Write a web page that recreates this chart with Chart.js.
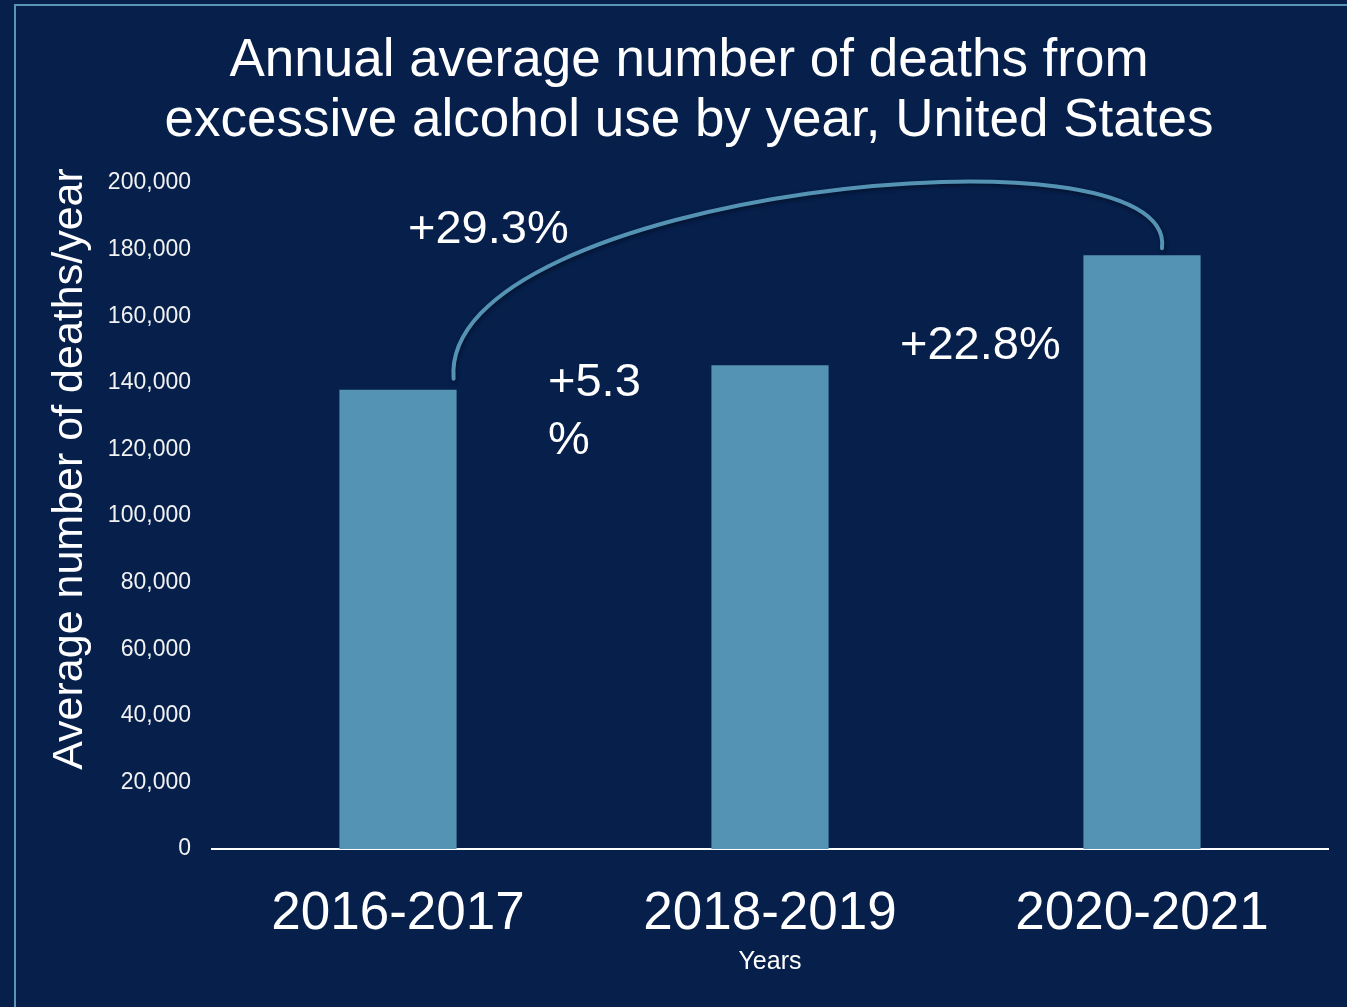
<!DOCTYPE html>
<html>
<head>
<meta charset="utf-8">
<title>Deaths from excessive alcohol use</title>
<script src="https://cdn.jsdelivr.net/npm/chart.js@4.4.0/dist/chart.umd.min.js"></script>
<style>
  html, body { margin: 0; padding: 0; background: #061f4b; overflow: hidden; }
  #wrap { position: relative; width: 1347px; height: 1007px; }
  #frame {
    position: absolute; left: 14px; top: 4px; right: 0; bottom: 0;
    border-left: 2px solid #5a95b9; border-top: 2px solid #5a95b9;
  }
  #chart { position: absolute; left: 0; top: 0; }
</style>
</head>
<body>
<div id="wrap">
  <div id="frame"></div>
  <canvas id="chart" width="1347" height="1007"></canvas>
</div>
<script>
const periods = ['2016-2017', '2018-2019', '2020-2021'];
const avgDeaths = [137927, 145253, 178307];
const yMax = 200000;
const yStep = 20000;

const titleLines = ['Annual average number of deaths from', 'excessive alcohol use by year, United States'];
const yTitle = 'Average number of deaths/year';
const xTitle = 'Years';

const BAR = '#5593b4';
const FONT = '"Liberation Sans", Arial, sans-serif';

Chart.defaults.font.family = FONT;

function pctChange(from, to) {
    return '+' + ((to / from - 1) * 100).toFixed(1) + '%';
}

// arc between first and last bar, change labels, rotated y title
const overlay = {
    id: 'overlay',
    afterDatasetsDraw(chart) {
        const { ctx } = chart;
        const [b1, b2, b3] = chart.getDatasetMeta(0).data;

        ctx.save();
        const sx = b1.x + b1.width / 2 - 3, sy = b1.y - 11;
        const ex = b3.x + 20, ey = b3.y - 7;
        ctx.shadowColor = 'rgba(0, 0, 0, 0.45)';
        ctx.shadowBlur = 4;
        ctx.shadowOffsetX = 1;
        ctx.shadowOffsetY = 2;
        ctx.strokeStyle = BAR;
        ctx.lineWidth = 4;
        ctx.lineCap = 'round';
        ctx.beginPath();
        ctx.moveTo(sx, sy);
        ctx.bezierCurveTo(sx - 15, sy - 188, ex + 17, ey - 132, ex, ey);
        ctx.stroke();
        ctx.restore();

        ctx.save();
        ctx.fillStyle = '#ffffff';
        ctx.font = '47px ' + FONT;
        ctx.textAlign = 'left';
        ctx.textBaseline = 'middle';
        ctx.fillText(pctChange(avgDeaths[0], avgDeaths[2]), b1.x + 10, b1.y - 160);
        const mid = pctChange(avgDeaths[0], avgDeaths[1]);
        ctx.fillText(mid.slice(0, -1), b2.x - 222, b2.y + 18);
        ctx.fillText('%', b2.x - 222, b2.y + 76);
        ctx.fillText(pctChange(avgDeaths[1], avgDeaths[2]), b3.x - 242, b3.y + 91);
        ctx.restore();

        ctx.save();
        ctx.fillStyle = '#ffffff';
        ctx.font = '43px ' + FONT;
        ctx.textAlign = 'center';
        ctx.textBaseline = 'middle';
        ctx.translate(70, 469);
        ctx.rotate(-Math.PI / 2);
        ctx.fillText(yTitle, 0, 0);
        ctx.restore();
    }
};

new Chart(document.getElementById('chart').getContext('2d'), {
    type: 'bar',
    data: {
        labels: periods,
        datasets: [{
            data: avgDeaths,
            backgroundColor: BAR,
            borderWidth: 0,
            barPercentage: 0.315,
            categoryPercentage: 1.0
        }]
    },
    options: {
        responsive: false,
        animation: false,
        layout: {
            padding: { left: 50, right: 19, top: 0, bottom: 0 }
        },
        scales: {
            x: {
                grid: { display: false, drawTicks: false },
                border: { display: true, color: '#ffffff', width: 2 },
                ticks: {
                    color: '#ffffff',
                    padding: 34,
                    maxRotation: 0,
                    font: { size: 53 }
                },
                title: {
                    display: true,
                    text: xTitle,
                    color: '#ffffff',
                    font: { size: 25 },
                    padding: { top: 0, bottom: 30 }
                },
                afterFit(scale) { scale.height = 158; }
            },
            y: {
                min: 0,
                max: yMax,
                grid: { display: false, drawTicks: false },
                border: { display: false },
                ticks: {
                    stepSize: yStep,
                    color: '#f2f2f2',
                    padding: 21,
                    font: { size: 23 },
                    callback: v => v.toLocaleString('en-US')
                },
                afterFit(scale) { scale.width = 162; }
            }
        },
        plugins: {
            legend: { display: false },
            tooltip: { enabled: false },
            title: {
                display: true,
                text: titleLines,
                color: '#ffffff',
                font: { size: 53, weight: 'normal', lineHeight: 60 / 53 },
                padding: { top: 31, bottom: 32 }
            }
        }
    },
    plugins: [overlay]
});
</script>
</body>
</html>
